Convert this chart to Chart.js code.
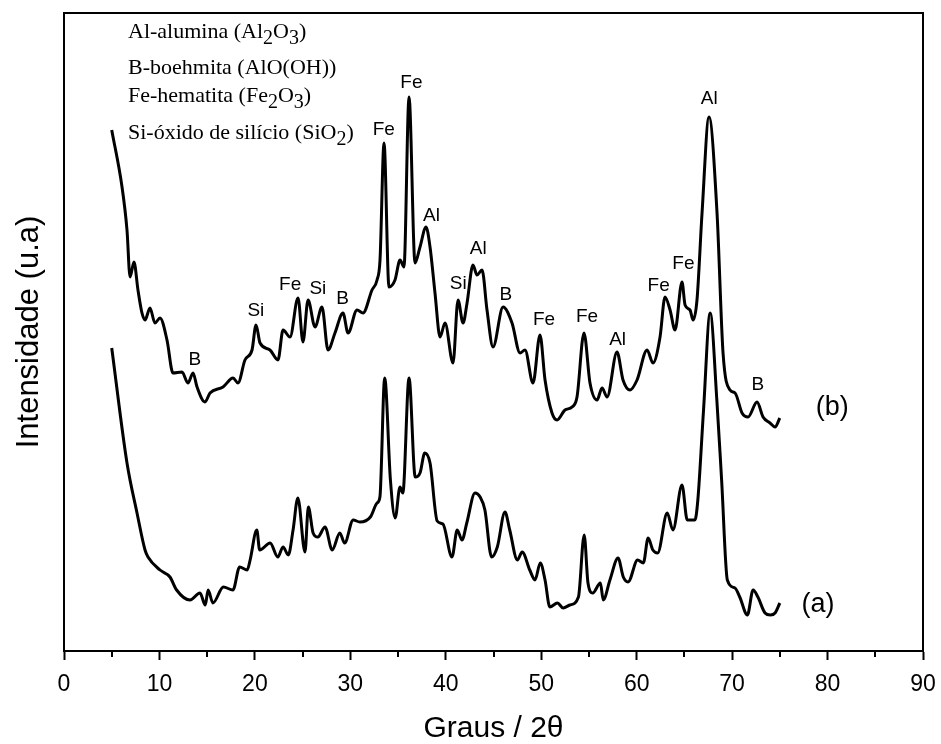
<!DOCTYPE html>
<html>
<head>
<meta charset="utf-8">
<script src="https://cdn.jsdelivr.net/npm/chart.js@4.4.1/dist/chart.umd.min.js"></script>
<style>
html, body { margin: 0; padding: 0; background: #fff; }
</style>
</head>
<body>
<canvas id="xrd" width="941" height="744"></canvas>
<script>
// curve (b) - upper pattern
const thetaB = [5.0, 6.08, 6.6, 6.92, 7.33, 7.75, 8.17, 8.49, 9.01, 9.53, 10.06, 10.79, 11.42, 12.36, 12.99, 13.52, 13.94, 14.77, 15.3, 16.66,
    17.71, 18.23, 18.96, 19.7, 20.12, 20.54, 21.58, 22.42, 22.95, 23.68, 24.52, 25.04, 25.57, 26.3, 27.03, 27.66, 28.39, 29.23, 29.76, 30.7,
    31.33, 32.27, 32.8, 33.11, 33.53, 34.05, 34.68, 35.21, 35.62, 36.15, 36.78, 37.3, 37.93, 38.35, 38.87, 39.4, 39.92, 40.76, 41.28, 41.81,
    42.23, 42.85, 43.27, 43.8, 44.32, 44.95, 46.0, 46.94, 47.78, 48.3, 49.14, 49.87, 50.4, 51.13, 51.66, 52.49, 53.23, 53.75, 54.48, 55.11,
    55.85, 56.37, 56.9, 57.94, 58.57, 59.3, 60.04, 61.09, 61.71, 62.45, 62.97, 63.5, 64.02, 64.75, 65.07, 65.59, 65.91, 66.32, 66.85, 67.58,
    68.42, 69.05, 69.78, 70.31, 71.04, 71.67, 72.61, 73.24, 73.97, 74.5, 75.0]
const intB = [521, 464, 421, 374, 389, 361, 338, 331, 343, 328, 333, 311, 278, 279, 268, 278, 264, 249, 258, 264,
    273, 268, 291, 301, 326, 308, 301, 291, 321, 314, 353, 309, 351, 324, 344, 301, 318, 338, 318, 341,
    338, 361, 371, 391, 508, 364, 371, 391, 384, 554, 388, 404, 424, 404, 358, 314, 328, 288, 351, 328,
    348, 386, 376, 381, 341, 304, 344, 328, 298, 301, 268, 316, 271, 238, 231, 241, 244, 254, 318, 268,
    251, 263, 254, 299, 271, 261, 271, 301, 288, 314, 354, 341, 321, 369, 346, 341, 331, 351, 438, 534,
    438, 298, 261, 258, 238, 234, 249, 234, 228, 224, 233]

// curve (a) - lower pattern
const thetaA = [5.0, 6.6, 7.65, 8.49, 8.8, 10.06, 11.1, 11.8, 13.2, 14.25, 14.8, 15.1, 15.6, 16.7, 17.7, 18.4, 19.2, 19.5, 20.2, 20.5,
    21.6, 22.4, 22.95, 23.5, 24.0, 24.5, 25.25, 25.6, 26.1, 26.6, 27.35, 28.1, 28.9, 29.4, 30.3, 31.0, 32.1, 32.8, 33.1, 33.6,
    34.2, 34.7, 35.2, 35.5, 36.15, 36.8, 37.3, 37.8, 38.35, 39.1, 39.7, 40.65, 41.2, 41.7, 42.2, 43.06, 43.6, 44.1, 44.8, 45.4,
    46.2, 46.7, 47.5, 48.0, 48.8, 49.35, 49.9, 50.4, 50.9, 51.7, 52.3, 53.0, 53.9, 54.5, 54.9, 55.4, 56.2, 56.5, 57.2, 58.05,
    58.6, 59.1, 60.1, 60.7, 61.2, 61.7, 62.2, 63.2, 63.8, 64.75, 65.3, 66.1, 66.4, 67.0, 67.7, 68.4, 68.9, 69.5, 70.3, 70.8,
    71.6, 72.2, 72.7, 73.45, 74.0, 74.5, 75.0]
const intA = [303, 188, 138, 101, 94, 81, 74, 61, 51, 58, 46, 61, 48, 64, 61, 84, 81, 91, 121, 101,
    108, 94, 104, 96, 121, 153, 99, 144, 118, 114, 124, 101, 118, 108, 131, 129, 134, 148, 154, 273,
    171, 133, 164, 158, 273, 174, 178, 198, 188, 130, 127, 94, 121, 111, 128, 158, 154, 141, 94, 104,
    139, 121, 91, 99, 81, 71, 88, 71, 44, 48, 43, 46, 54, 116, 68, 58, 68, 51, 71, 93,
    74, 69, 91, 88, 113, 101, 98, 138, 121, 166, 131, 131, 150, 240, 338, 251, 171, 71, 63, 54,
    36, 61, 54, 38, 36, 38, 48]

// phase labels over the peaks
const peakLabels = ['B', 'Si', 'Fe', 'Si', 'B', 'Fe', 'Fe', 'Al', 'Si', 'Al', 'B', 'Fe', 'Fe', 'Al', 'Fe', 'Fe', 'Al', 'B']
const peakTheta = [13.7, 20.1, 23.7, 26.6, 29.2, 33.5, 36.4, 38.5, 41.3, 43.4, 46.3, 50.3, 54.8, 58.0, 62.3, 64.9, 67.6, 72.7]
const peakY = [291, 340, 366, 362, 352, 521, 568, 435, 367, 402, 356, 331, 334, 311, 365, 387, 552, 266]

const curveNames = ['(b)', '(a)']
const curveNameTheta = [80.5, 79.0]
const curveNameY = [243, 46]

const legendLines = [
    'Al-alumina (Al_2O_3)',
    'B-boehmita (AlO(OH))',
    'Fe-hematita (Fe_2O_3)',
    'Si-óxido de silício (SiO_2)'
]

Chart.defaults.font.family = '"Liberation Sans", Arial, sans-serif'
Chart.defaults.color = '#000'

function toPoints(xs, ys){
    return xs.map((x, i) => ({x: x, y: ys[i]}))
}

// draws what chart.js has no option for: the frame, minor ticks and all the text inside the plot
const extras = {
    id: 'extras',
    afterDraw(chart){
        const ctx = chart.ctx
        const area = chart.chartArea
        const x = chart.scales.x
        const y = chart.scales.y
        ctx.save()
        ctx.strokeStyle = '#000'
        ctx.lineWidth = 2
        ctx.beginPath()
        ctx.moveTo(area.left, area.top)
        ctx.lineTo(area.right, area.top)
        ctx.lineTo(area.right, area.bottom)
        for(let v = 5; v < 90; v += 10){
            const px = Math.round(x.getPixelForValue(v))
            ctx.moveTo(px, area.bottom)
            ctx.lineTo(px, area.bottom + 6)
        }
        ctx.stroke()

        ctx.fillStyle = '#000'
        ctx.textAlign = 'center'
        ctx.textBaseline = 'middle'
        ctx.font = '19px "Liberation Sans", Arial, sans-serif'
        for(let i = 0; i < peakLabels.length; i++){
            ctx.fillText(peakLabels[i], x.getPixelForValue(peakTheta[i]), y.getPixelForValue(peakY[i]))
        }
        ctx.font = '27px "Liberation Sans", Arial, sans-serif'
        for(let i = 0; i < curveNames.length; i++){
            ctx.fillText(curveNames[i], x.getPixelForValue(curveNameTheta[i]), y.getPixelForValue(curveNameY[i]))
        }

        // legend text, "_" marks a subscript digit
        const baselines = [38, 74, 102, 139]
        ctx.textAlign = 'left'
        ctx.textBaseline = 'alphabetic'
        for(let i = 0; i < legendLines.length; i++){
            let cx = 128
            const parts = legendLines[i].split(/_(\d)/)
            for(let j = 0; j < parts.length; j++){
                const sub = j % 2 == 1
                ctx.font = (sub ? '20px' : '22px') + ' "Liberation Serif", "Times New Roman", serif'
                ctx.fillText(parts[j], cx, baselines[i] + (sub ? 6 : 0))
                cx += ctx.measureText(parts[j]).width
            }
        }
        ctx.restore()
    }
}

new Chart(document.getElementById('xrd'), {
    type: 'line',
    data: {
        datasets: [
            {
                label: '(b)',
                data: toPoints(thetaB, intB),
                borderColor: '#000',
                borderWidth: 3,
                pointRadius: 0,
                cubicInterpolationMode: 'monotone'
            },
            {
                label: '(a)',
                data: toPoints(thetaA, intA),
                borderColor: '#000',
                borderWidth: 3,
                pointRadius: 0,
                cubicInterpolationMode: 'monotone'
            }
        ]
    },
    options: {
        responsive: false,
        animation: false,
        devicePixelRatio: 1,
        layout: {
            padding: {top: 13, right: 18, left: 0, bottom: 0}
        },
        plugins: {
            legend: {display: false},
            tooltip: {enabled: false}
        },
        scales: {
            x: {
                type: 'linear',
                min: 0,
                max: 90,
                afterFit(scale){
                    scale.height = 93
                    scale.paddingLeft = 0
                    scale.paddingRight = 0
                },
                ticks: {
                    stepSize: 10,
                    padding: 11,
                    font: {size: 23},
                    color: '#000',
                    maxRotation: 0
                },
                grid: {
                    drawOnChartArea: false,
                    tickLength: 9,
                    tickWidth: 2,
                    color: '#000'
                },
                border: {color: '#000', width: 2},
                title: {
                    display: true,
                    text: 'Graus / 2θ',
                    font: {size: 30, lineHeight: 1},
                    color: '#000',
                    padding: 0
                }
            },
            y: {
                min: 0,
                max: 638,
                afterFit(scale){ scale.width = 64 },
                ticks: {display: false},
                grid: {display: false},
                border: {color: '#000', width: 2},
                title: {
                    display: true,
                    text: 'Intensidade (u.a)',
                    font: {size: 31, lineHeight: 1},
                    color: '#000',
                    padding: {top: 14, bottom: 0}
                }
            }
        }
    },
    plugins: [extras]
})
</script>
</body>
</html>
